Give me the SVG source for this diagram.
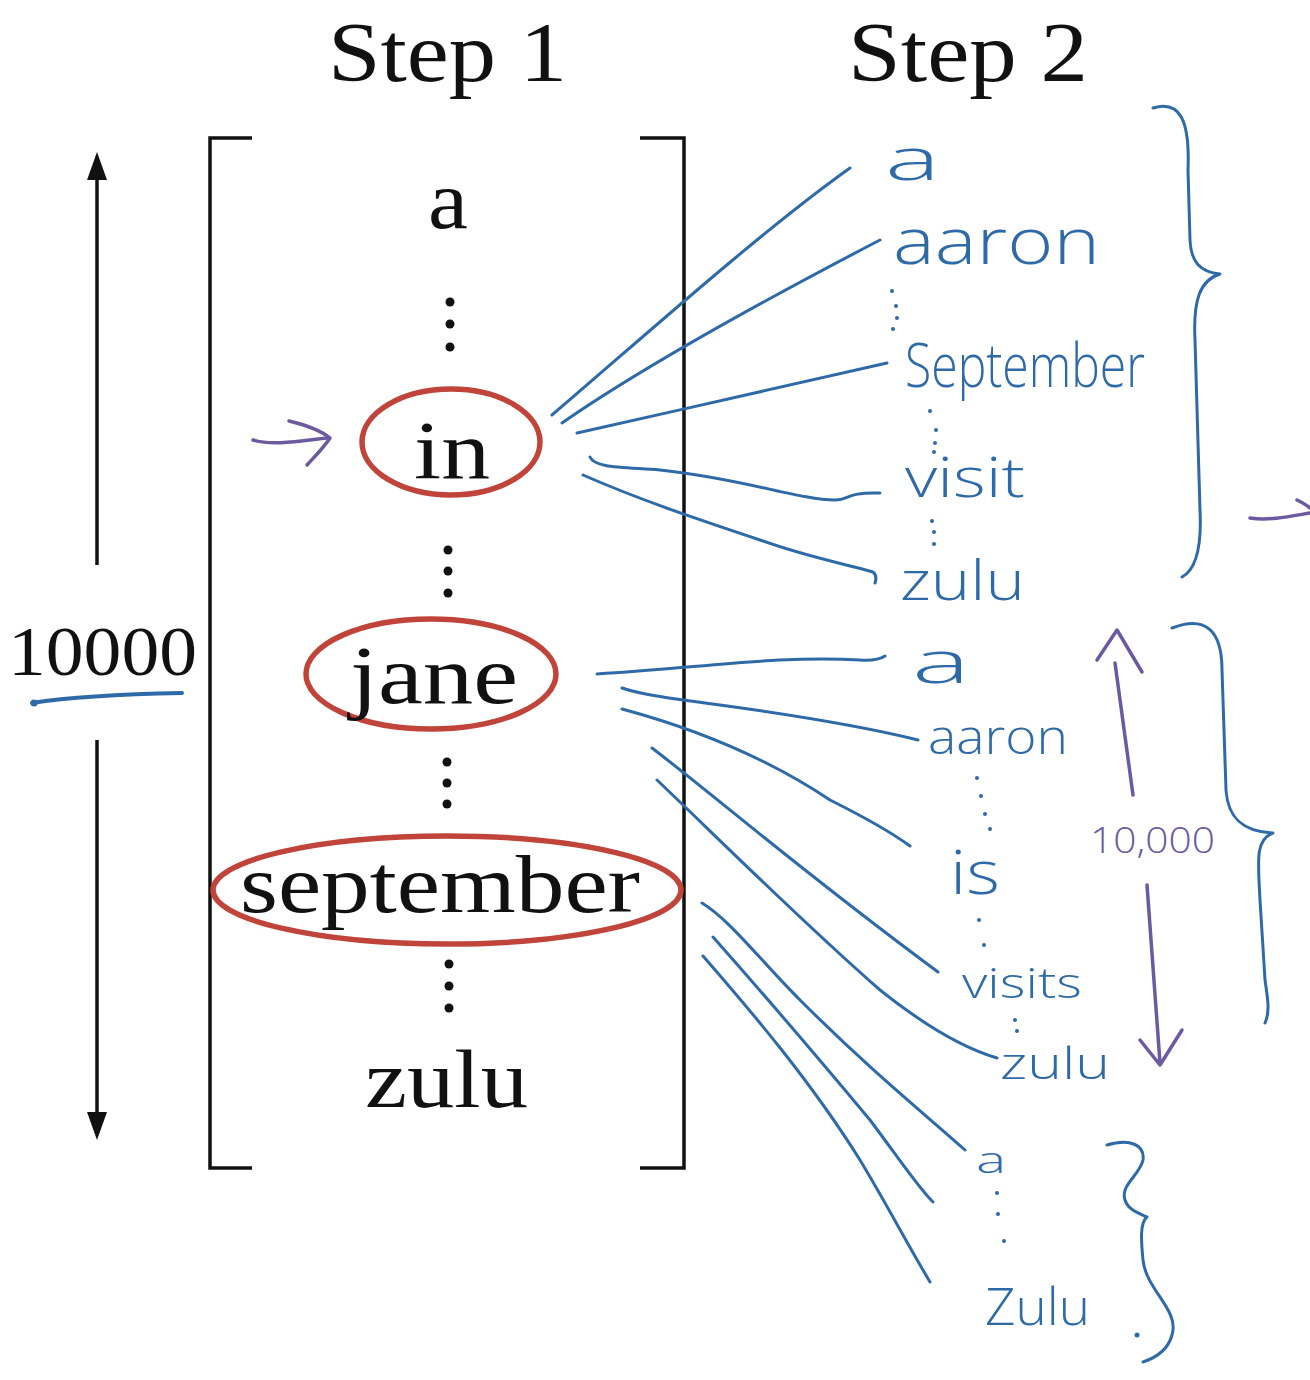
<svg xmlns="http://www.w3.org/2000/svg" width="1310" height="1380" viewBox="0 0 1310 1380">
<defs>
<style>
.serif{font-family:"Liberation Serif","DejaVu Serif",serif;fill:#111}
.hand{font-family:"Open Sans","Inter","Liberation Sans",sans-serif;font-weight:300;fill:#2f6aa8}
.purpletxt{font-family:"Open Sans","Inter","Liberation Sans",sans-serif;font-weight:300;fill:#6b5aa0}
.blue{fill:none;stroke:#2f6aa8;stroke-width:3;stroke-linecap:round;stroke-linejoin:round}
.purple{fill:none;stroke:#6b5aa0;stroke-width:3.5;stroke-linecap:round;stroke-linejoin:round}
.red{fill:none;stroke:#c0443a;stroke-width:5.5}
.blk{fill:none;stroke:#111;stroke-width:3.5}
.dot{fill:#111}
.bdot{fill:#2f6aa8}
</style>
</defs>
<rect width="1310" height="1380" fill="#ffffff"/>

<g id="step1-title"><text class="serif" x="328" y="81" font-size="84" textLength="239" lengthAdjust="spacingAndGlyphs">Step 1</text></g>
<g id="step2-title"><text class="serif" x="848" y="81" font-size="84" textLength="240" lengthAdjust="spacingAndGlyphs">Step 2</text></g>

<g id="size-arrow">
<line class="blk" x1="97" y1="175" x2="97" y2="565"/>
<polygon points="97,152 87,180 107,180" fill="#111"/>
<line class="blk" x1="97" y1="740" x2="97" y2="1115"/>
<polygon points="97,1140 87,1112 107,1112" fill="#111"/>
<text class="serif" x="8" y="675" font-size="70" textLength="189" lengthAdjust="spacingAndGlyphs">10000</text>
<path d="M32,703 C70,697 130,694 182,693" fill="none" stroke="#2f6aa8" stroke-width="4" stroke-linecap="round"/>
<circle cx="34" cy="703" r="3.5" fill="#2f6aa8"/>
</g>

<g id="vector-bracket">
<path class="blk" d="M252,138 L210,138 L210,1168 L252,1168"/>
<path class="blk" d="M640,138 L684,138 L684,1168 L640,1168"/>
</g>

<g id="word-a"><text class="serif" x="428" y="228" font-size="82" textLength="40" lengthAdjust="spacingAndGlyphs">a</text></g>
<g id="dots-1"><circle class="dot" cx="450" cy="302" r="4.5"/><circle class="dot" cx="450" cy="324" r="4.5"/><circle class="dot" cx="450" cy="347" r="4.5"/></g>
<g id="word-in">
<ellipse class="red" cx="451" cy="442" rx="89" ry="53"/>
<text class="serif" x="414" y="478" font-size="82" textLength="76" lengthAdjust="spacingAndGlyphs">in</text>
</g>
<g id="dots-2"><circle class="dot" cx="448" cy="550" r="4.5"/><circle class="dot" cx="448" cy="571" r="4.5"/><circle class="dot" cx="448" cy="593" r="4.5"/></g>
<g id="word-jane">
<ellipse class="red" cx="431" cy="674" rx="125" ry="55"/>
<text class="serif" x="350" y="703" font-size="82" textLength="168" lengthAdjust="spacingAndGlyphs">jane</text>
</g>
<g id="dots-3"><circle class="dot" cx="447" cy="762" r="4.5"/><circle class="dot" cx="447" cy="783" r="4.5"/><circle class="dot" cx="447" cy="804" r="4.5"/></g>
<g id="word-september">
<ellipse class="red" cx="447" cy="890" rx="234" ry="54"/>
<text class="serif" x="240" y="912" font-size="82" textLength="400" lengthAdjust="spacingAndGlyphs">september</text>
</g>
<g id="dots-4"><circle class="dot" cx="449" cy="964" r="4.5"/><circle class="dot" cx="449" cy="986" r="4.5"/><circle class="dot" cx="449" cy="1008" r="4.5"/></g>
<g id="word-zulu"><text class="serif" x="365" y="1107" font-size="82" textLength="163" lengthAdjust="spacingAndGlyphs">zulu</text></g>

<g id="pointer-arrow">
<path class="purple" d="M253,440 C272,446 300,441 327,438"/>
<path class="purple" d="M289,421 C306,425 320,430 330,438 C322,450 313,458 307,465"/>
</g>
<g id="pointer-arrow-right">
<path class="purple" d="M1250,518 C1270,521 1292,516 1310,513"/>
<path class="purple" d="M1297,500 C1303,503 1308,506 1310,508"/>
</g>

<g id="group1">
<text class="hand" x="885" y="180" font-size="58" textLength="55" lengthAdjust="spacingAndGlyphs">a</text>
<text class="hand" x="893" y="264" font-size="64" textLength="207" lengthAdjust="spacingAndGlyphs">aaron</text>
<circle class="bdot" cx="892" cy="291" r="2"/><circle class="bdot" cx="896" cy="306" r="2"/><circle class="bdot" cx="897" cy="318" r="2"/><circle class="bdot" cx="893" cy="329" r="2"/>
<text class="hand" x="905" y="387" font-size="60" textLength="240" lengthAdjust="spacingAndGlyphs">September</text>
<circle class="bdot" cx="930" cy="411" r="2"/><circle class="bdot" cx="936" cy="430" r="2"/><circle class="bdot" cx="935" cy="443" r="2"/><circle class="bdot" cx="934" cy="452" r="2"/>
<text class="hand" x="905" y="497" font-size="55" textLength="120" lengthAdjust="spacingAndGlyphs">visit</text>
<circle class="bdot" cx="932" cy="521" r="2"/><circle class="bdot" cx="934" cy="532" r="2"/><circle class="bdot" cx="934" cy="544" r="2"/>
<text class="hand" x="900" y="600" font-size="55" textLength="125" lengthAdjust="spacingAndGlyphs">zulu</text>
<path class="blue" d="M1153,108 C1180,100 1190,120 1188,170 L1190,240 C1191,262 1200,272 1220,274 C1200,280 1193,300 1195,340 L1200,510 C1202,550 1195,570 1182,577"/>
</g>

<g id="group2">
<text class="hand" x="912" y="683" font-size="58" textLength="58" lengthAdjust="spacingAndGlyphs">a</text>
<text class="hand" x="928" y="754" font-size="48" textLength="140" lengthAdjust="spacingAndGlyphs">aaron</text>
<circle class="bdot" cx="977" cy="778" r="2"/><circle class="bdot" cx="981" cy="796" r="2"/><circle class="bdot" cx="985" cy="814" r="2"/><circle class="bdot" cx="990" cy="829" r="2"/>
<text class="hand" x="950" y="894" font-size="60" textLength="50" lengthAdjust="spacingAndGlyphs">is</text>
<circle class="bdot" cx="979" cy="920" r="2"/><circle class="bdot" cx="984" cy="945" r="2"/>
<text class="hand" x="962" y="998" font-size="42" textLength="120" lengthAdjust="spacingAndGlyphs">visits</text>
<circle class="bdot" cx="1015" cy="1020" r="2"/><circle class="bdot" cx="1017" cy="1031" r="2"/>
<text class="hand" x="1000" y="1079" font-size="45" textLength="110" lengthAdjust="spacingAndGlyphs">zulu</text>
<path class="blue" d="M1172,628 C1205,615 1222,630 1222,670 L1226,790 C1228,820 1245,832 1273,833 C1255,840 1258,860 1260,900 L1265,980 C1268,1000 1270,1012 1265,1023"/>
</g>

<g id="group3">
<text class="hand" x="976" y="1173" font-size="36" textLength="30" lengthAdjust="spacingAndGlyphs">a</text>
<circle class="bdot" cx="997" cy="1193" r="2"/><circle class="bdot" cx="998" cy="1214" r="2"/><circle class="bdot" cx="1004" cy="1241" r="2"/>
<text class="hand" x="985" y="1325" font-size="52" textLength="105" lengthAdjust="spacingAndGlyphs">Zulu</text>
<path class="blue" d="M1107,1145 C1130,1138 1145,1145 1143,1160 C1140,1175 1120,1185 1125,1200 C1128,1210 1140,1214 1147,1217 C1140,1222 1141,1240 1143,1260 C1146,1290 1180,1310 1172,1335 C1168,1350 1155,1358 1143,1362"/>
<circle class="bdot" cx="1137" cy="1335" r="2.5"/>
</g>

<g id="count-arrow">
<path class="purple" d="M1133,795 L1115,663"/>
<path class="purple" d="M1097,660 L1117,630 L1142,672"/>
<text class="purpletxt" x="1090" y="853" font-size="36" textLength="125" lengthAdjust="spacingAndGlyphs">10,000</text>
<path class="purple" d="M1147,885 L1160,1063"/>
<path class="purple" d="M1140,1040 L1160,1065 L1182,1030"/>
</g>

<g id="connectors">
<path class="blue" d="M552,415 C640,340 760,232 850,168"/>
<path class="blue" d="M562,423 C650,362 780,292 880,240"/>
<path class="blue" d="M577,433 C680,410 790,385 887,363"/>
<path class="blue" d="M590,457 C595,468 620,467 660,470 C740,478 800,500 835,500 C850,500 845,492 880,493"/>
<path class="blue" d="M583,475 C640,500 700,520 760,540 C810,558 850,565 873,572 C877,575 876,580 875,583"/>
<path class="blue" d="M597,674 C700,668 780,655 860,660 C875,661 882,658 885,656"/>
<path class="blue" d="M622,688 C640,694 660,697 720,705 C800,716 870,728 918,740"/>
<path class="blue" d="M622,709 C700,730 770,760 830,800 C870,820 895,835 910,846"/>
<path class="blue" d="M652,748 C720,800 800,870 938,972"/>
<path class="blue" d="M657,780 C720,840 800,920 880,990 C930,1030 970,1050 997,1058"/>
<path class="blue" d="M702,903 C730,920 760,960 800,1000 C870,1070 920,1110 965,1150"/>
<path class="blue" d="M713,937 C760,990 820,1060 870,1120 C900,1160 920,1190 933,1202"/>
<path class="blue" d="M703,956 C750,1010 810,1080 860,1160 C890,1210 905,1240 930,1282"/>
</g>
</svg>
